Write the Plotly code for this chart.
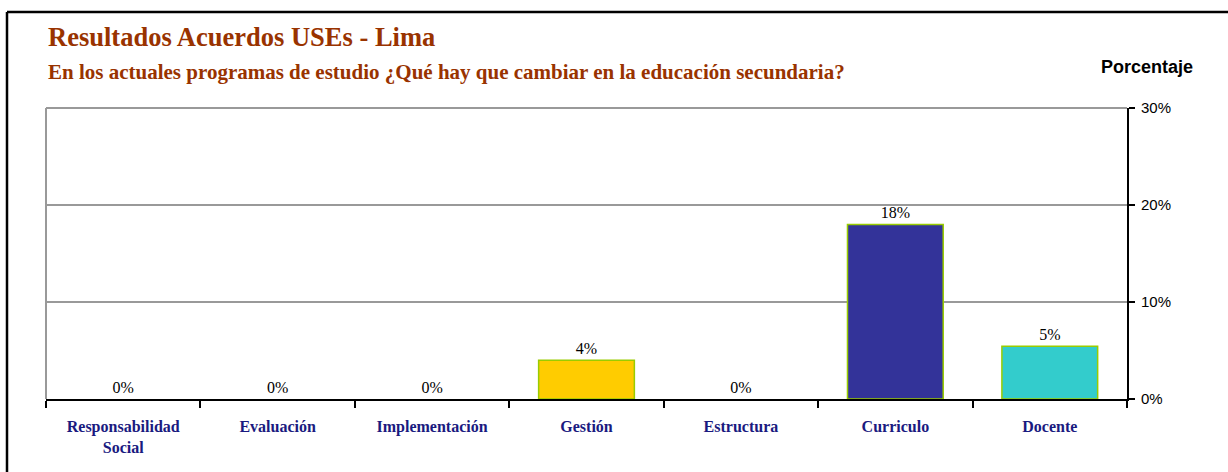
import plotly.graph_objects as go

# Datos
categorias = ["Responsabilidad<br>Social", "Evaluación", "Implementación",
              "Gestión", "Estructura", "Curriculo", "Docente"]
porcentajes = [0, 0, 0, 4.0, 0, 18.0, 5.45]
colores = ["#FFCC00", "#FFCC00", "#FFCC00", "#FFCC00", "#FFCC00", "#333399", "#33CCCC"]
y_ticks = [0, 10, 20, 30]

W, H = 1228, 472
L, R, T, B = 46, 101, 108, 73
pw, ph = W - L - R, H - T - B


def px_x(x):
    return (x - L) / pw


def px_y(y):
    return (H - B - y) / ph


serif = "Liberation Serif"
sans = "Liberation Sans"

# las barras en cero no muestran contorno
bordes = [1.5 if v > 0 else 0 for v in porcentajes]
etiqueta_font = dict(family=serif, size=16, color="#000000")

fig = go.Figure(go.Bar(
    x=categorias,
    y=porcentajes,
    width=0.62,
    marker=dict(color=colores, line=dict(color="#99CC00", width=bordes)),
    text=[f"{v:.0f}%" for v in porcentajes],
    textposition="outside",
    textfont=etiqueta_font,
    outsidetextfont=etiqueta_font,
    cliponaxis=False,
    hoverinfo="skip",
))

fig.update_layout(
    width=W, height=H,
    margin=dict(l=L, r=R, t=T, b=B),
    paper_bgcolor="white",
    plot_bgcolor="white",
    showlegend=False,
    font=dict(family=serif),
)

fig.update_xaxes(
    tickson="boundaries",
    ticks="outside", ticklen=7, tickwidth=1.5, tickcolor="#000000",
    showline=True, linecolor="#000000", linewidth=2,
    showgrid=False,
    ticklabelstandoff=12,
    tickfont=dict(family=serif, size=16, color="#1A1A80", weight="bold"),
)

fig.update_yaxes(
    side="right",
    range=[0, 30],
    tickvals=y_ticks,
    ticktext=[f"{v}%" for v in y_ticks],
    ticks="outside", ticklen=6, tickwidth=1.5, tickcolor="#000000",
    showline=True, linecolor="#000000", linewidth=2,
    showgrid=True, gridcolor="#999999", gridwidth=1.5,
    zeroline=False,
    ticklabelstandoff=3,
    tickfont=dict(family=sans, size=15, color="#000000"),
)

# borde gris del area de trazado (izquierda y arriba)
fig.add_shape(type="line", xref="paper", yref="paper", x0=0, x1=0, y0=0, y1=1,
              line=dict(color="#999999", width=2))
fig.add_shape(type="line", xref="paper", yref="paper", x0=0, x1=1, y0=1, y1=1,
              line=dict(color="#999999", width=2))

# borde negro exterior (arriba e izquierda)
fig.add_shape(type="line", xref="paper", yref="paper",
              x0=px_x(7), x1=px_x(1228), y0=px_y(12), y1=px_y(12),
              line=dict(color="#000000", width=2.5))
fig.add_shape(type="line", xref="paper", yref="paper",
              x0=px_x(7), x1=px_x(7), y0=px_y(472), y1=px_y(12),
              line=dict(color="#000000", width=2.5))

fig.add_annotation(
    text="<b>Resultados Acuerdos USEs - Lima</b>",
    xref="paper", yref="paper", x=px_x(46), y=px_y(37),
    xanchor="left", yanchor="middle", showarrow=False,
    font=dict(family=serif, size=26.5, color="#993300"),
)
fig.add_annotation(
    text="<b>En los actuales programas de estudio ¿Qué hay que cambiar en la educación secundaria?</b>",
    xref="paper", yref="paper", x=px_x(46), y=px_y(72),
    xanchor="left", yanchor="middle", showarrow=False,
    font=dict(family=serif, size=21, color="#993300"),
)
fig.add_annotation(
    text="<b>Porcentaje</b>",
    xref="paper", yref="paper", x=px_x(1195), y=px_y(67),
    xanchor="right", yanchor="middle", showarrow=False,
    font=dict(family=sans, size=18, color="#000000"),
)

fig.write_html("out.html", config={"displayModeBar": False},
               post_script="document.body.style.margin='0';")
